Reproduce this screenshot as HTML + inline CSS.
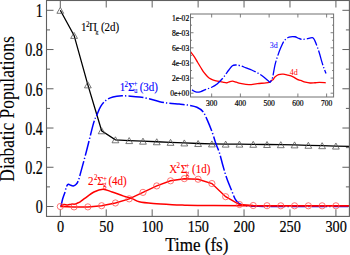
<!DOCTYPE html>
<html><head><meta charset="utf-8"><style>
html,body{margin:0;padding:0;background:#fff;}
#w{position:relative;width:350px;height:255px;overflow:hidden;background:#fff;font-family:"Liberation Serif",serif;}
svg{position:absolute;left:0;top:0;}
</style></head><body><div id="w">
<svg width="350" height="255" viewBox="0 0 350 255">
<defs><clipPath id="cm"><rect x="46.5" y="0.5" width="302.9" height="215.9"/></clipPath><clipPath id="ci"><rect x="190.5" y="14" width="143.10000000000002" height="83"/></clipPath></defs>
<path d="M60.30,216.4 V209.4 M60.30,0.5 V7.5 M106.23,216.4 V209.4 M106.23,0.5 V7.5 M152.17,216.4 V209.4 M152.17,0.5 V7.5 M198.11,216.4 V209.4 M198.11,0.5 V7.5 M244.04,216.4 V209.4 M244.04,0.5 V7.5 M289.97,216.4 V209.4 M289.97,0.5 V7.5 M335.91,216.4 V209.4 M335.91,0.5 V7.5 M46.5,206.50 H53.5 M349.4,206.50 H342.4 M46.5,186.88 H50.0 M349.4,186.88 H345.9 M46.5,167.26 H53.5 M349.4,167.26 H342.4 M46.5,147.64 H50.0 M349.4,147.64 H345.9 M46.5,128.02 H53.5 M349.4,128.02 H342.4 M46.5,108.40 H50.0 M349.4,108.40 H345.9 M46.5,88.78 H53.5 M349.4,88.78 H342.4 M46.5,69.16 H50.0 M349.4,69.16 H345.9 M46.5,49.54 H53.5 M349.4,49.54 H342.4 M46.5,29.92 H50.0 M349.4,29.92 H345.9 M46.5,10.30 H53.5 M349.4,10.30 H342.4" stroke="#606060" stroke-width="1" fill="none"/>
<g clip-path="url(#cm)"><path d="M60.30,10.30 L74.08,35.41 L87.86,84.86 L101.64,130.77 L115.42,139.79 L129.20,140.58 L142.98,141.17 L156.76,141.75 L170.54,142.34 L184.32,142.93 L198.11,143.52 L211.89,143.91 L225.67,144.11 L239.45,144.11 L253.23,144.30 L267.01,144.50 L280.79,144.70 L294.57,144.89 L308.35,145.29 L322.13,145.68 L335.91,146.07 L349.69,146.46" stroke="#000" stroke-width="1.3" fill="none"/><g stroke="#555" stroke-width="0.8" fill="none"><path d="M60.30,7.30 L63.70,13.30 L56.90,13.30 Z"/><path d="M74.08,32.41 L77.48,38.41 L70.68,38.41 Z"/><path d="M87.86,81.86 L91.26,87.86 L84.46,87.86 Z"/><path d="M101.64,127.77 L105.04,133.77 L98.24,133.77 Z"/><path d="M115.42,136.79 L118.82,142.79 L112.02,142.79 Z"/><path d="M129.20,137.58 L132.60,143.58 L125.80,143.58 Z"/><path d="M142.98,138.17 L146.38,144.17 L139.58,144.17 Z"/><path d="M156.76,138.75 L160.16,144.75 L153.36,144.75 Z"/><path d="M170.54,139.34 L173.94,145.34 L167.14,145.34 Z"/><path d="M184.32,139.93 L187.72,145.93 L180.92,145.93 Z"/><path d="M198.11,140.52 L201.51,146.52 L194.71,146.52 Z"/><path d="M211.89,140.91 L215.29,146.91 L208.49,146.91 Z"/><path d="M225.67,141.11 L229.07,147.11 L222.27,147.11 Z"/><path d="M239.45,141.11 L242.85,147.11 L236.05,147.11 Z"/><path d="M253.23,141.30 L256.63,147.30 L249.83,147.30 Z"/><path d="M267.01,141.50 L270.41,147.50 L263.61,147.50 Z"/><path d="M280.79,141.70 L284.19,147.70 L277.39,147.70 Z"/><path d="M294.57,141.89 L297.97,147.89 L291.17,147.89 Z"/><path d="M308.35,142.29 L311.75,148.29 L304.95,148.29 Z"/><path d="M322.13,142.68 L325.53,148.68 L318.73,148.68 Z"/><path d="M335.91,143.07 L339.31,149.07 L332.51,149.07 Z"/></g><path d="M60.76,206.50 C60.84,206.30 60.93,206.50 61.22,205.32 C61.51,204.15 61.88,201.63 62.50,199.44 C63.13,197.25 64.34,194.27 64.99,192.18 C65.63,190.08 65.80,188.19 66.36,186.88 C66.93,185.57 67.65,184.59 68.38,184.33 C69.12,184.07 69.96,185.05 70.77,185.31 C71.58,185.57 72.35,186.06 73.25,185.90 C74.16,185.74 75.37,185.15 76.19,184.33 C77.02,183.51 77.57,182.56 78.21,180.99 C78.86,179.42 78.63,180.08 80.05,174.91 C81.48,169.75 84.51,158.63 86.76,149.99 C89.01,141.36 91.89,128.90 93.56,123.12 C95.23,117.33 95.58,118.05 96.77,115.27 C97.97,112.49 99.19,108.92 100.72,106.44 C102.25,103.95 103.92,101.93 105.96,100.36 C108.00,98.79 110.29,97.77 112.94,97.02 C115.59,96.27 118.90,95.97 121.85,95.84 C124.81,95.71 127.73,96.04 130.67,96.24 C133.61,96.43 136.55,96.63 139.49,97.02 C142.43,97.41 144.94,97.81 148.31,98.59 C151.68,99.37 156.18,100.94 159.70,101.73 C163.23,102.51 166.18,102.91 169.44,103.30 C172.70,103.69 175.99,103.76 179.27,104.08 C182.55,104.41 186.16,104.74 189.10,105.26 C192.04,105.78 194.58,106.14 196.91,107.22 C199.24,108.30 201.26,109.41 203.07,111.74 C204.87,114.06 206.19,117.62 207.75,121.15 C209.31,124.68 211.07,129.16 212.44,132.93 C213.80,136.69 214.75,140.35 215.93,143.72 C217.11,147.08 218.36,149.54 219.51,153.13 C220.66,156.73 221.62,161.15 222.82,165.30 C224.01,169.45 225.19,173.80 226.68,178.05 C228.16,182.30 230.26,187.21 231.73,190.80 C233.20,194.40 234.23,197.51 235.50,199.63 C236.77,201.76 237.78,202.58 239.35,203.56 C240.93,204.54 241.88,205.06 244.96,205.52 C248.04,205.98 250.32,206.14 257.82,206.30 C265.32,206.47 274.66,206.47 289.97,206.50 C305.29,206.53 339.74,206.50 349.69,206.50" stroke="#0000ff" stroke-width="1.5" fill="none" stroke-dasharray="15.2 2.1 1.3 2.2"/><path d="M60.76,205.72 C61.30,205.52 62.83,204.67 63.97,204.54 C65.12,204.41 66.42,205.00 67.65,204.93 C68.87,204.86 70.10,204.28 71.32,204.15 C72.55,204.01 74.08,204.28 75.00,204.15 C75.92,204.01 75.92,203.79 76.84,203.36 C77.76,202.94 79.19,202.41 80.51,201.59 C81.83,200.78 82.50,200.06 84.74,198.46 C86.97,196.85 90.88,193.52 93.92,191.98 C96.97,190.44 99.97,189.23 103.02,189.23 C106.07,189.23 108.76,190.84 112.21,191.98 C115.65,193.13 120.28,194.96 123.69,196.10 C127.10,197.25 130.11,197.90 132.69,198.85 C135.28,199.80 135.80,201.01 139.22,201.79 C142.63,202.58 147.68,203.07 153.18,203.56 C158.68,204.05 166.90,204.47 172.20,204.73 C177.50,205.00 179.12,205.00 184.97,205.13 C190.82,205.26 197.45,205.42 207.29,205.52 C217.14,205.62 220.31,205.67 244.04,205.72 C267.77,205.76 332.08,205.80 349.69,205.81" stroke="#ff0000" stroke-width="1.5" fill="none"/><path d="M60.30,206.50 L74.08,206.89 L87.86,206.89 L101.64,205.72 L115.42,202.97 L129.20,198.85 L142.98,192.37 L156.76,185.90 L170.54,180.80 L184.32,178.64 L198.11,179.23 L211.89,183.54 L225.67,196.69 L239.45,204.54 L253.23,205.52 L267.01,205.72 L280.79,205.81 L294.57,205.81 L308.35,205.81 L322.13,205.81 L335.91,205.81 L349.69,205.81" stroke="#ff0000" stroke-width="1.5" fill="none"/><g stroke="#ff5050" stroke-width="0.8" fill="none"><circle cx="60.30" cy="206.50" r="3.1"/><circle cx="74.08" cy="206.89" r="3.1"/><circle cx="87.86" cy="206.89" r="3.1"/><circle cx="101.64" cy="205.72" r="3.1"/><circle cx="115.42" cy="202.97" r="3.1"/><circle cx="129.20" cy="198.85" r="3.1"/><circle cx="142.98" cy="192.37" r="3.1"/><circle cx="156.76" cy="185.90" r="3.1"/><circle cx="170.54" cy="180.80" r="3.1"/><circle cx="184.32" cy="178.64" r="3.1"/><circle cx="198.11" cy="179.23" r="3.1"/><circle cx="211.89" cy="183.54" r="3.1"/><circle cx="225.67" cy="196.69" r="3.1"/><circle cx="239.45" cy="204.54" r="3.1"/><circle cx="253.23" cy="205.52" r="3.1"/><circle cx="267.01" cy="205.72" r="3.1"/><circle cx="280.79" cy="205.81" r="3.1"/><circle cx="294.57" cy="205.81" r="3.1"/><circle cx="308.35" cy="205.81" r="3.1"/><circle cx="322.13" cy="205.81" r="3.1"/><circle cx="335.91" cy="205.81" r="3.1"/></g></g>
<rect x="46.5" y="0.5" width="302.9" height="215.9" stroke="#606060" stroke-width="1.1" fill="none"/>
<rect x="190.5" y="14.0" width="143.10000000000002" height="83.0" fill="#fff" stroke="none"/>
<path d="M211.66,97.0 V93.5 M211.66,14.0 V17.5 M240.39,97.0 V93.5 M240.39,14.0 V17.5 M269.13,97.0 V93.5 M269.13,14.0 V17.5 M297.88,97.0 V93.5 M297.88,14.0 V17.5 M326.62,97.0 V93.5 M326.62,14.0 V17.5 M190.5,93.20 H193.5 M333.6,93.20 H330.6 M190.5,85.64 H192.0 M333.6,85.64 H332.1 M190.5,78.08 H193.5 M333.6,78.08 H330.6 M190.5,70.52 H192.0 M333.6,70.52 H332.1 M190.5,62.96 H193.5 M333.6,62.96 H330.6 M190.5,55.40 H192.0 M333.6,55.40 H332.1 M190.5,47.84 H193.5 M333.6,47.84 H330.6 M190.5,40.28 H192.0 M333.6,40.28 H332.1 M190.5,32.72 H193.5 M333.6,32.72 H330.6 M190.5,25.16 H192.0 M333.6,25.16 H332.1 M190.5,17.60 H193.5 M333.6,17.60 H330.6" stroke="#707070" stroke-width="0.9" fill="none"/>
<g clip-path="url(#ci)"><path d="M190.69,51.92 C191.31,52.75 193.25,55.19 194.41,56.91 C195.56,58.64 196.53,60.48 197.61,62.28 C198.69,64.08 199.82,65.98 200.90,67.72 C201.99,69.46 203.03,71.26 204.11,72.71 C205.19,74.16 206.32,75.38 207.40,76.42 C208.48,77.45 209.34,78.19 210.61,78.91 C211.87,79.63 213.56,80.32 215.01,80.73 C216.46,81.13 217.87,81.05 219.31,81.33 C220.74,81.61 222.35,82.15 223.60,82.39 C224.85,82.63 225.86,82.86 226.80,82.77 C227.74,82.68 228.30,82.14 229.24,81.86 C230.17,81.58 231.22,81.04 232.41,81.10 C233.61,81.17 235.08,81.87 236.39,82.24 C237.71,82.60 238.23,82.91 240.31,83.30 C242.40,83.69 246.05,84.53 248.90,84.58 C251.75,84.63 254.55,83.88 257.40,83.60 C260.25,83.32 263.98,83.17 266.01,82.92 C268.05,82.67 268.69,82.48 269.59,82.09 C270.49,81.70 270.81,80.99 271.39,80.57 C271.98,80.16 272.52,80.17 273.11,79.59 C273.70,79.01 274.02,77.92 274.91,77.10 C275.81,76.28 277.11,75.16 278.49,74.68 C279.88,74.20 281.64,74.14 283.21,74.22 C284.78,74.31 286.34,74.82 287.91,75.21 C289.47,75.60 291.04,75.88 292.60,76.57 C294.17,77.26 295.95,78.72 297.30,79.37 C298.65,80.01 299.35,79.97 300.70,80.42 C302.05,80.88 303.83,81.66 305.39,82.09 C306.96,82.52 308.52,82.88 310.09,82.99 C311.66,83.11 313.24,82.88 314.81,82.77 C316.38,82.65 317.69,82.31 319.50,82.31 C321.32,82.31 324.66,82.69 325.69,82.77" stroke="#ff0000" stroke-width="1.3" fill="none"/><path d="M190.69,88.21 C191.12,88.64 192.30,90.14 193.29,90.78 C194.28,91.42 195.34,91.94 196.61,92.07 C197.88,92.19 199.29,92.00 200.90,91.54 C202.52,91.07 204.51,89.99 206.31,89.27 C208.11,88.55 209.89,88.12 211.69,87.23 C213.49,86.33 215.30,85.35 217.10,83.90 C218.91,82.45 221.04,80.20 222.51,78.53 C223.99,76.87 224.88,75.35 225.95,73.92 C227.01,72.50 227.82,71.36 228.89,69.99 C229.97,68.62 231.23,66.51 232.41,65.68 C233.60,64.85 234.67,65.00 235.99,65.00 C237.31,65.00 238.64,65.20 240.31,65.68 C241.98,66.16 244.11,67.16 246.01,67.87 C247.91,68.59 249.81,69.16 251.70,69.99 C253.60,70.82 255.50,71.79 257.40,72.86 C259.30,73.93 261.18,74.99 263.09,76.42 C265.01,77.84 267.70,80.46 268.90,81.41 C270.11,82.35 269.69,82.77 270.31,82.09 C270.92,81.41 271.83,80.12 272.60,77.32 C273.36,74.53 274.13,68.68 274.91,65.30 C275.70,61.93 276.31,60.01 277.29,57.06 C278.27,54.11 279.63,50.36 280.81,47.61 C281.99,44.87 283.00,42.33 284.39,40.58 C285.77,38.83 287.34,37.75 289.11,37.10 C290.88,36.46 293.54,36.58 295.01,36.73 C296.47,36.88 296.78,37.57 297.93,38.01 C299.07,38.45 300.46,39.22 301.90,39.37 C303.35,39.52 304.85,39.20 306.60,38.92 C308.35,38.64 311.04,37.43 312.41,37.71 C313.78,37.99 314.03,39.13 314.81,40.58 C315.59,42.03 316.32,44.25 317.10,46.40 C317.88,48.56 318.72,50.96 319.50,53.51 C320.29,56.06 321.03,59.14 321.79,61.67 C322.56,64.21 323.41,66.75 324.11,68.71 C324.81,70.66 325.69,72.61 326.00,73.39" stroke="#0000ff" stroke-width="1.3" fill="none" stroke-dasharray="15 2 1.3 2" stroke-dashoffset="-2.2"/></g>
<rect x="190.5" y="14.0" width="143.10000000000002" height="83.0" stroke="#707070" stroke-width="1.0" fill="none"/>
<g font-family="Liberation Serif, serif" fill="#000" stroke="#000" stroke-width="0.2"><text transform="translate(42.8,213.30) scale(0.87,1.1)" font-size="16.2" text-anchor="end">0</text><text transform="translate(42.8,174.06) scale(0.87,1.1)" font-size="16.2" text-anchor="end">0.2</text><text transform="translate(42.8,134.82) scale(0.87,1.1)" font-size="16.2" text-anchor="end">0.4</text><text transform="translate(42.8,95.58) scale(0.87,1.1)" font-size="16.2" text-anchor="end">0.6</text><text transform="translate(42.8,56.34) scale(0.87,1.1)" font-size="16.2" text-anchor="end">0.8</text><text transform="translate(42.8,17.10) scale(0.87,1.1)" font-size="16.2" text-anchor="end">1</text><text transform="translate(60.50,231.5) scale(0.88,1.08)" font-size="16.2" text-anchor="middle">0</text><text transform="translate(106.43,231.5) scale(0.88,1.08)" font-size="16.2" text-anchor="middle">50</text><text transform="translate(152.37,231.5) scale(0.88,1.08)" font-size="16.2" text-anchor="middle">100</text><text transform="translate(198.31,231.5) scale(0.88,1.08)" font-size="16.2" text-anchor="middle">150</text><text transform="translate(244.24,231.5) scale(0.88,1.08)" font-size="16.2" text-anchor="middle">200</text><text transform="translate(290.17,231.5) scale(0.88,1.08)" font-size="16.2" text-anchor="middle">250</text><text transform="translate(336.11,231.5) scale(0.88,1.08)" font-size="16.2" text-anchor="middle">300</text><text transform="translate(165.3,250.9) scale(1,1.1)" font-size="17">Time (fs)</text><text transform="translate(14.3,109.0) rotate(-90) scale(1,1.22)" x="0" y="0" font-size="17.4" stroke-width="0.05" text-anchor="middle">Diabatic Populations</text><text transform="translate(189.2,96.20) scale(0.95,1.12)" font-size="8" text-anchor="end">0e+00</text><text transform="translate(189.2,81.08) scale(0.95,1.12)" font-size="8" text-anchor="end">2e-03</text><text transform="translate(189.2,65.96) scale(0.95,1.12)" font-size="8" text-anchor="end">4e-03</text><text transform="translate(189.2,50.84) scale(0.95,1.12)" font-size="8" text-anchor="end">6e-03</text><text transform="translate(189.2,35.72) scale(0.95,1.12)" font-size="8" text-anchor="end">8e-03</text><text transform="translate(189.2,20.60) scale(0.95,1.12)" font-size="8" text-anchor="end">1e-02</text><text transform="translate(211.66,105.9) scale(0.95,1.12)" font-size="8" text-anchor="middle">300</text><text transform="translate(240.39,105.9) scale(0.95,1.12)" font-size="8" text-anchor="middle">400</text><text transform="translate(269.13,105.9) scale(0.95,1.12)" font-size="8" text-anchor="middle">500</text><text transform="translate(297.88,105.9) scale(0.95,1.12)" font-size="8" text-anchor="middle">600</text><text transform="translate(326.62,105.9) scale(0.95,1.12)" font-size="8" text-anchor="middle">700</text><text x="269.8" y="47.5" font-size="8" fill="#0000ff" stroke="none">3d</text><text x="289.8" y="74.6" font-size="8" fill="#ff0000" stroke="none">4d</text><text transform="translate(81.00,31.30) scale(1,1.15)" font-size="11" fill="#000" stroke="#000" stroke-width="0.1">1</text><text transform="translate(86.10,27.40) scale(1,1.15)" font-size="7" fill="#000" stroke="#000" stroke-width="0.06999999999999999">2</text><text transform="translate(89.00,31.30) scale(1,1.15)" font-size="11" fill="#000" stroke="#000" stroke-width="0.1">Π</text><text transform="translate(95.40,33.50) scale(1,1.15)" font-size="6" fill="#000" stroke="#000" stroke-width="0.06999999999999999">g</text><text transform="translate(100.90,31.30) scale(1,1.15)" font-size="11" fill="#000" stroke="#000" stroke-width="0.1">(2d)</text><text transform="translate(119.70,91.00) scale(1,1.15)" font-size="11" fill="#0000ff" stroke="#0000ff" stroke-width="0.1">1</text><text transform="translate(124.40,86.90) scale(1,1.15)" font-size="7" fill="#0000ff" stroke="#0000ff" stroke-width="0.06999999999999999">2</text><text transform="translate(127.90,91.00) scale(1,1.15)" font-size="11" fill="#0000ff" stroke="#0000ff" stroke-width="0.1">Σ</text><text transform="translate(133.50,86.00) scale(1,1.15)" font-size="7" fill="#0000ff" stroke="#0000ff" stroke-width="0.06999999999999999">+</text><text transform="translate(134.00,93.40) scale(1,1.15)" font-size="7" fill="#0000ff" stroke="#0000ff" stroke-width="0.06999999999999999">u</text><text transform="translate(139.70,91.00) scale(1,1.15)" font-size="11" fill="#0000ff" stroke="#0000ff" stroke-width="0.1">(3d)</text><text transform="translate(88.10,185.00) scale(1,1.15)" font-size="11" fill="#ff0000" stroke="#ff0000" stroke-width="0.1">2</text><text transform="translate(93.90,180.00) scale(1,1.15)" font-size="7" fill="#ff0000" stroke="#ff0000" stroke-width="0.06999999999999999">2</text><text transform="translate(97.20,185.00) scale(1,1.15)" font-size="11" fill="#ff0000" stroke="#ff0000" stroke-width="0.1">Σ</text><text transform="translate(102.90,180.60) scale(1,1.15)" font-size="7" fill="#ff0000" stroke="#ff0000" stroke-width="0.06999999999999999">+</text><text transform="translate(103.00,187.00) scale(1,1.15)" font-size="7" fill="#ff0000" stroke="#ff0000" stroke-width="0.06999999999999999">g</text><text transform="translate(108.40,185.00) scale(1,1.15)" font-size="11" fill="#ff0000" stroke="#ff0000" stroke-width="0.1">(4d)</text><text transform="translate(169.20,172.80) scale(1,1.15)" font-size="11" fill="#ff0000" stroke="#ff0000" stroke-width="0.1">X</text><text transform="translate(176.60,168.20) scale(1,1.15)" font-size="7" fill="#ff0000" stroke="#ff0000" stroke-width="0.06999999999999999">2</text><text transform="translate(180.70,173.00) scale(1,1.15)" font-size="11" fill="#ff0000" stroke="#ff0000" stroke-width="0.1">Σ</text><text transform="translate(185.50,168.00) scale(1,1.15)" font-size="7" fill="#ff0000" stroke="#ff0000" stroke-width="0.06999999999999999">+</text><text transform="translate(185.80,176.00) scale(1,1.15)" font-size="7" fill="#ff0000" stroke="#ff0000" stroke-width="0.06999999999999999">g</text><text transform="translate(192.00,172.80) scale(1,1.15)" font-size="11" fill="#ff0000" stroke="#ff0000" stroke-width="0.1">(1d)</text></g>
</svg>
</div></body></html>
